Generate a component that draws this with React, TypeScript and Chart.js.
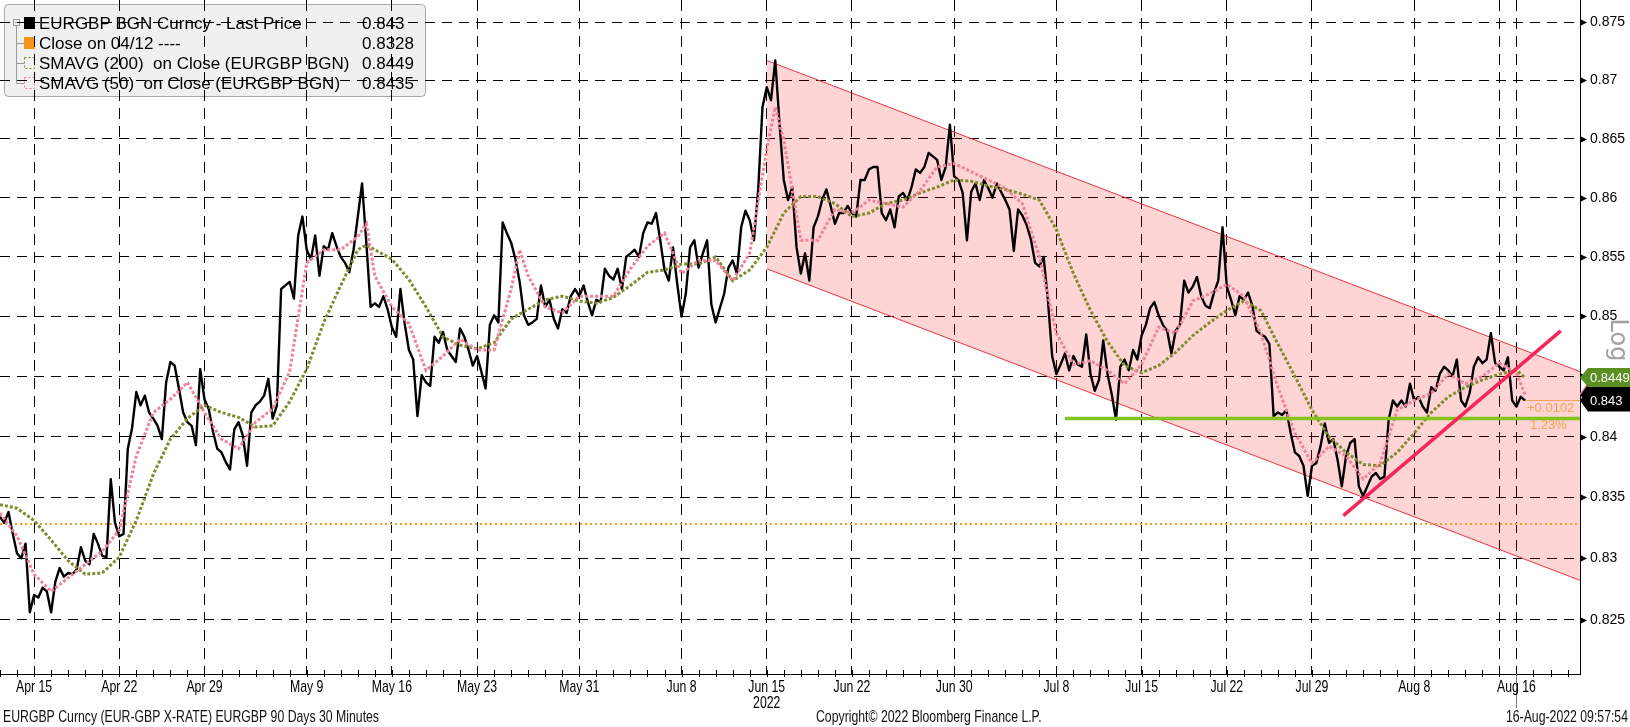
import React, { useEffect, useRef } from "react";
import { Chart, registerables } from "chart.js";
Chart.register(...registerables);

// ---------------- data (x = trading-day index, 0 = Apr 13) ----------------
const priceStartDay = 0;
const priceStepDays = 0.25;
const priceValues = [
  0.8334, 0.8329, 0.8338, 0.832, 0.8304, 0.83, 0.8312, 0.8256,
  0.827, 0.8268, 0.8276, 0.8273, 0.8256, 0.8281, 0.8292, 0.8285,
  0.8288, 0.8287, 0.8291, 0.8309, 0.8298, 0.8295, 0.832, 0.8312,
  0.8302, 0.8301, 0.8365, 0.8329, 0.8318, 0.832, 0.839, 0.8407,
  0.8437, 0.8426, 0.8434, 0.842, 0.8415, 0.8409, 0.8398, 0.8445,
  0.8462, 0.8459, 0.844, 0.842, 0.8412, 0.8409, 0.8393, 0.8456,
  0.8431, 0.8423, 0.8404, 0.839, 0.8387, 0.8379, 0.8373, 0.8406,
  0.8412, 0.8401, 0.8376, 0.842, 0.8426, 0.8429, 0.8434, 0.8448,
  0.8415, 0.8426, 0.8523, 0.8526, 0.8529, 0.8515, 0.8568, 0.8584,
  0.8556, 0.8548, 0.8568, 0.8534, 0.8559, 0.8556, 0.857, 0.8559,
  0.855, 0.8545, 0.8537, 0.8556, 0.8584, 0.8612, 0.8562, 0.8508,
  0.8511, 0.8508, 0.8517, 0.8506, 0.8491, 0.8483, 0.8523, 0.8494,
  0.8472, 0.8464, 0.8417, 0.8451, 0.8445, 0.8442, 0.8483, 0.8478,
  0.8487, 0.8472, 0.8467, 0.8462, 0.849, 0.8483, 0.8472, 0.8459,
  0.8467, 0.8454, 0.844, 0.8493, 0.8501, 0.8495, 0.8579, 0.857,
  0.8562, 0.8548, 0.8529, 0.8501, 0.8493, 0.8495, 0.8498, 0.8526,
  0.8508, 0.8514, 0.8498, 0.849, 0.8506, 0.8503, 0.8517, 0.8523,
  0.8517, 0.8526, 0.8512, 0.8501, 0.8514, 0.8512, 0.854, 0.8534,
  0.8531, 0.854, 0.8523, 0.855, 0.8553, 0.8556, 0.855, 0.857,
  0.8579, 0.8578, 0.8587, 0.8564, 0.8539, 0.853, 0.8558, 0.8527,
  0.85, 0.8519, 0.8558, 0.8564, 0.8541, 0.8553, 0.8564, 0.851,
  0.8495, 0.8507, 0.8519, 0.8541, 0.8547, 0.8536, 0.8575, 0.8589,
  0.8581, 0.8564, 0.8607, 0.8677, 0.8694, 0.8683, 0.8717, 0.8663,
  0.8615, 0.8598, 0.8609, 0.8558, 0.8536, 0.8553, 0.853, 0.8575,
  0.8584, 0.8598, 0.8607, 0.8593, 0.8578, 0.8587, 0.8587, 0.8593,
  0.8587, 0.8584, 0.8615, 0.8615, 0.8624, 0.8626, 0.8626, 0.8587,
  0.8581, 0.859, 0.8575, 0.8601, 0.8604, 0.8598, 0.8609, 0.8624,
  0.8621, 0.8626, 0.8638, 0.8635, 0.8632, 0.8615, 0.8626, 0.8662,
  0.8618, 0.8615, 0.8604, 0.8564, 0.8605, 0.8612, 0.8598, 0.8615,
  0.8608, 0.86, 0.8612, 0.8605, 0.8598, 0.859, 0.8555, 0.859,
  0.8585, 0.8577, 0.8565, 0.8545, 0.8542, 0.855, 0.8514, 0.8467,
  0.8452, 0.846, 0.8469, 0.8455, 0.8467, 0.846, 0.8458, 0.8485,
  0.8452, 0.8438, 0.8447, 0.848, 0.8452, 0.8435, 0.8414, 0.8458,
  0.8464, 0.8455, 0.8472, 0.8464, 0.8484, 0.8493, 0.8507, 0.8512,
  0.8501, 0.8493, 0.8488, 0.8469, 0.8488, 0.8493, 0.853, 0.852,
  0.8525, 0.8533, 0.8517, 0.8509, 0.8507, 0.852, 0.853, 0.8575,
  0.8525, 0.8514, 0.8501, 0.8517, 0.8514, 0.852, 0.8509, 0.8488,
  0.8485, 0.8483, 0.8477, 0.8417, 0.842, 0.8418, 0.8422, 0.8403,
  0.8387, 0.8384, 0.8376, 0.8351, 0.8376, 0.8378, 0.8392, 0.8411,
  0.8395, 0.8398, 0.8381, 0.8359, 0.8384, 0.8395, 0.8398, 0.8359,
  0.8351, 0.8359, 0.8367, 0.837, 0.8365, 0.8367, 0.8414, 0.843,
  0.8425, 0.843, 0.8425, 0.8444, 0.843, 0.8433, 0.8425, 0.842,
  0.8441, 0.8438, 0.8452, 0.8458, 0.8455, 0.845, 0.8464, 0.843,
  0.8425, 0.8436, 0.8458, 0.8466, 0.8461, 0.8464, 0.8486, 0.8461,
  0.8458, 0.8455, 0.8466, 0.843, 0.8425, 0.8433, 0.843,
];

const sma50Days = [
  0, 1, 2, 3, 4, 5, 6, 7, 8, 9, 10, 11, 12, 13, 14, 15, 16, 17, 18, 19, 20, 21, 21.5, 22,
  23, 24, 25, 26, 27, 28, 29, 30, 30.5, 31, 32, 33, 34, 35, 36, 37, 38, 39, 40, 41, 42, 43,
  44, 45, 45.5, 46, 47, 48, 49, 50, 51, 52, 53, 54, 55, 56, 57, 58, 59, 60, 61, 62, 63, 64,
  65, 66, 67, 68, 69, 70, 71, 72, 73, 74, 75, 76, 77, 78, 79, 80, 81, 82, 83, 84, 85, 86,
  87, 88, 89, 89.5,
];
const sma50Values = [
  0.8337, 0.8318, 0.8287, 0.8273, 0.8284, 0.8295, 0.8306, 0.8323, 0.8384, 0.842, 0.8431,
  0.8445, 0.842, 0.8398, 0.839, 0.8412, 0.8423, 0.8454, 0.8545, 0.8556, 0.8556, 0.8567,
  0.8578, 0.8534, 0.8508, 0.8494, 0.8455, 0.8467, 0.8481, 0.8472, 0.8472, 0.8523, 0.8556,
  0.8534, 0.8508, 0.8503, 0.8517, 0.8517, 0.8517, 0.854, 0.8559, 0.857, 0.8536, 0.8547,
  0.8547, 0.853, 0.8553, 0.8641, 0.8677, 0.8649, 0.8564, 0.8564, 0.859, 0.8587, 0.8598,
  0.8595, 0.8592, 0.8606, 0.8626, 0.8629, 0.8622, 0.8615, 0.8608, 0.8595, 0.855, 0.8486,
  0.846, 0.8463, 0.8455, 0.8444, 0.846, 0.8491, 0.8486, 0.8513, 0.8519, 0.8527, 0.8517,
  0.8486, 0.8441, 0.8403, 0.8378, 0.8392, 0.8384, 0.8365, 0.8378, 0.8422, 0.843, 0.8436,
  0.8452, 0.8444, 0.845, 0.8461, 0.8453, 0.8435,
];

const sma200Days = [
  0, 1, 2, 3, 4, 5, 6, 7, 8, 9, 10, 11, 12, 13, 14, 15, 16, 17, 18, 19, 20, 21, 21.5, 22,
  23, 24, 25, 26, 27, 28, 29, 30, 31, 32, 33, 34, 35, 36, 37, 38, 39, 40, 41, 42, 43, 44,
  45, 46, 47, 48, 49, 50, 51, 52, 53, 54, 55, 56, 57, 58, 59, 60, 61, 62, 63, 64, 65, 66,
  67, 68, 69, 70, 71, 72, 73, 74, 75, 76, 77, 78, 79, 80, 81, 82, 83, 84, 85, 86, 87, 88,
  89, 89.5,
];
const sma200Values = [
  0.8344, 0.8341, 0.8331, 0.8315, 0.8298, 0.8287, 0.8288, 0.8301, 0.8331, 0.8369, 0.8398,
  0.8415, 0.8426, 0.842, 0.8416, 0.8408, 0.8409, 0.8429, 0.8456, 0.8495, 0.8526, 0.8556,
  0.856, 0.8556, 0.8548, 0.8531, 0.8508, 0.8483, 0.8476, 0.8473, 0.8478, 0.8498, 0.8506,
  0.8514, 0.8517, 0.8513, 0.8511, 0.8516, 0.8526, 0.8537, 0.8539, 0.8544, 0.8544, 0.855,
  0.853, 0.8539, 0.8558, 0.8587, 0.8601, 0.8601, 0.8595, 0.8584, 0.8587, 0.8595, 0.8598,
  0.8604, 0.8609, 0.8615, 0.8614, 0.861, 0.8607, 0.8603, 0.8598, 0.8573, 0.8536, 0.8505,
  0.8479, 0.8459, 0.8453, 0.8459, 0.847, 0.8484, 0.8495, 0.8505, 0.8513, 0.8505, 0.8477,
  0.845, 0.8422, 0.84, 0.8387, 0.8377, 0.8376, 0.8387, 0.8403, 0.842, 0.8433, 0.8441,
  0.8447, 0.8452, 0.8455, 0.8449,
];

const closeOn0412 = 0.8328;
const lastPrice = 0.843;
const lastSma200 = 0.8449;
const lastSma50 = 0.8435;
const changeText = "+0.0102";
const changePctText = "1.23%";

const channelDays = [45.0, 92.73];
const channelUpperValues = [0.8717, 0.8454];
const channelLowerValues = [0.854, 0.8282];
const supportDays = [62.5, 92.73];
const supportLevel = 0.8415;
const trendDays = [78.84, 91.6];
const trendValues = [0.8335, 0.8488];

const xTickDays = [2, 7, 12, 18, 23, 28, 34, 40, 45, 50, 56, 62, 67, 72, 77, 83, 88, 89];
const xTickLabels = [
  "Apr 15", "Apr 22", "Apr 29", "May 9", "May 16", "May 23", "May 31", "Jun 8", "Jun 15",
  "Jun 22", "Jun 30", "Jul 8", "Jul 15", "Jul 22", "Jul 29", "Aug 8", "", "Aug 16",
];
const yearLabel = "2022";
const yearTickDay = 45;
const nowDay = 89;
const yTickValues = [0.825, 0.83, 0.835, 0.84, 0.845, 0.85, 0.855, 0.86, 0.865, 0.87, 0.875];
const yTickLabels = ["0.825", "0.83", "0.835", "0.84", "0.845", "0.85", "0.855", "0.86", "0.865", "0.87", "0.875"];

const legendLabels = [
  "EURGBP BGN Curncy - Last Price",
  "Close on 04/12 ----",
  "SMAVG (200)  on Close (EURGBP BGN)",
  "SMAVG (50)  on Close (EURGBP BGN)",
];
const legendValues = ["0.843", "0.8328", "0.8449", "0.8435"];
const footerLeft = "EURGBP Curncy (EUR-GBP X-RATE) EURGBP 90 Days 30 Minutes";
const footerMid = "Copyright\u00A9 2022 Bloomberg Finance L.P.";
const footerRight = "16-Aug-2022 09:57:54";

const X_MIN = 0;
const X_MAX = 92.73;
const Y_MIN = 0.8206;
const Y_MAX = 0.8769;

// ---------------- styles ----------------
const W = 1630;
const H = 727;
const FONT = '"Liberation Sans", Arial, sans-serif';
const FOOTER_WIDTH = 376; // rendered width of the left footer line (condensed face)
const C_PRICE = "#000000";
const C_SMA200 = "#7f8c2d";
const C_SMA50 = "#f0839a";
const C_CLOSE = "#f0a020";
const C_SUPPORT = "#80c41c";
const C_TREND = "#f5275a";
const C_CHANNEL = "#e8333c";
const C_ORANGE_TXT = "#f2a255";

function drawTag(ctx: CanvasRenderingContext2D, x0: number, y: number, half: number, fill: string, text: string, stroke?: string) {
  ctx.beginPath();
  ctx.moveTo(x0, y);
  ctx.lineTo(x0 + 8, y - half);
  ctx.lineTo(W, y - half);
  ctx.lineTo(W, y + half);
  ctx.lineTo(x0 + 8, y + half);
  ctx.closePath();
  ctx.fillStyle = fill;
  ctx.fill();
  if (stroke) {
    ctx.strokeStyle = stroke;
    ctx.lineWidth = 1.5;
    ctx.beginPath();
    ctx.moveTo(x0, y);
    ctx.lineTo(x0 + 8, y - half);
    ctx.lineTo(W, y - half);
    ctx.stroke();
  }
  if (text) {
    ctx.fillStyle = "#ffffff";
    ctx.font = `13px ${FONT}`;
    ctx.textAlign = "left";
    ctx.textBaseline = "middle";
    ctx.fillText(text, x0 + 10, y + 1);
  }
}

const bbgPlugin = {
  id: "bbg",
  beforeDraw(chart: any) {
    const ctx: CanvasRenderingContext2D = chart.ctx;
    ctx.save();
    // legend box (grid is drawn over it afterwards, as in the reference)
    ctx.fillStyle = "#f0f0f0";
    ctx.strokeStyle = "#a8a8a8";
    ctx.lineWidth = 1;
    ctx.beginPath();
    (ctx as any).roundRect(4.5, 4.5, 421, 92, 4);
    ctx.fill();
    ctx.stroke();
    const rowY = [23, 43, 63, 83];
    ctx.strokeStyle = "#9a9a9a";
    ctx.beginPath();
    ctx.moveTo(16.5, 26);
    ctx.lineTo(16.5, 83.5);
    for (let i = 1; i < 4; i++) {
      ctx.moveTo(16.5, rowY[i] + 0.5);
      ctx.lineTo(24, rowY[i] + 0.5);
    }
    ctx.stroke();
    ctx.fillStyle = "#f0f0f0";
    ctx.fillRect(13.5, 19.5, 6, 6);
    ctx.strokeRect(13.5, 19.5, 6, 6);
    ctx.beginPath();
    ctx.moveTo(15, 22.5);
    ctx.lineTo(18, 22.5);
    ctx.stroke();
    ctx.fillStyle = "#000";
    ctx.fillRect(24, rowY[0] - 6, 11, 12);
    ctx.fillStyle = "#f7941d";
    ctx.fillRect(24, rowY[1] - 6, 11, 12);
    ctx.setLineDash([2, 2]);
    ctx.lineWidth = 1;
    ctx.strokeStyle = C_SMA200;
    ctx.strokeRect(24.5, rowY[2] - 5.5, 10, 11);
    ctx.strokeStyle = C_SMA50;
    ctx.strokeRect(24.5, rowY[3] - 5.5, 10, 11);
    ctx.setLineDash([]);
    ctx.fillStyle = "#000";
    ctx.font = `17px ${FONT}`;
    ctx.textBaseline = "middle";
    ctx.textAlign = "left";
    for (let i = 0; i < 4; i++) {
      ctx.fillText(legendLabels[i], 39, rowY[i] + 1);
      ctx.fillText(legendValues[i], 362, rowY[i] + 1);
    }
    ctx.restore();
  },
  afterDraw(chart: any) {
    const ctx: CanvasRenderingContext2D = chart.ctx;
    const area = chart.chartArea;
    const xs = chart.scales.x;
    const ys = chart.scales.y;
    ctx.save();
    // y-axis pointer ticks
    ctx.fillStyle = "#000";
    for (const v of yTickValues) {
      const y = Math.round(ys.getPixelForValue(v)) + 0.5;
      ctx.beginPath();
      ctx.moveTo(area.right, y - 3.5);
      ctx.lineTo(area.right + 7, y);
      ctx.lineTo(area.right, y + 3.5);
      ctx.closePath();
      ctx.fill();
    }
    // minor daily ticks on the time axis
    ctx.strokeStyle = "#000";
    ctx.lineWidth = 1;
    ctx.beginPath();
    for (let d = Math.ceil(X_MIN); d <= X_MAX; d++) {
      const x = Math.round(xs.getPixelForValue(d)) + 0.5;
      ctx.moveTo(x, area.bottom - 4);
      ctx.lineTo(x, area.bottom + 3);
    }
    ctx.stroke();
    // "now" marker below the axis
    const nx = Math.round(xs.getPixelForValue(nowDay)) + 0.5;
    ctx.strokeStyle = "#777";
    ctx.beginPath();
    ctx.moveTo(nx, area.bottom);
    ctx.lineTo(nx, 708);
    ctx.stroke();
    // right-side value tags
    drawTag(ctx, area.right, ys.getPixelForValue(lastSma50), 11, "#000", "", C_SMA50);
    drawTag(ctx, area.right, ys.getPixelForValue(lastSma200), 9.5, "#5b8f22", String(lastSma200));
    drawTag(ctx, area.right, ys.getPixelForValue(lastPrice), 11, "#000", String(lastPrice));
    // change annotation
    const yl = ys.getPixelForValue(lastPrice);
    ctx.fillStyle = C_ORANGE_TXT;
    ctx.font = `13px ${FONT}`;
    ctx.textAlign = "left";
    ctx.textBaseline = "middle";
    ctx.fillText(changeText, 1527, yl + 8);
    ctx.fillText(changePctText, 1530, yl + 25);
    // "Log" label
    ctx.save();
    ctx.translate(1617, 340);
    ctx.rotate(Math.PI / 2);
    ctx.fillStyle = "#a0a0a0";
    ctx.font = `24px "DejaVu Sans", sans-serif`;
    ctx.textAlign = "center";
    ctx.textBaseline = "middle";
    ctx.fillText("Log", 0, 0);
    ctx.restore();
    // condensed texts: time-axis labels and footer
    ctx.font = `17px ${FONT}`;
    const sx = FOOTER_WIDTH / ctx.measureText(footerLeft).width;
    const narrow = (text: string, x: number, y: number, align: CanvasTextAlign, color: string) => {
      ctx.save();
      ctx.translate(x, y);
      ctx.scale(sx, 1);
      ctx.fillStyle = color;
      ctx.textAlign = align;
      ctx.textBaseline = "middle";
      ctx.fillText(text, 0, 0);
      ctx.restore();
    };
    for (let i = 0; i < xTickDays.length; i++) {
      const x = xs.getPixelForValue(xTickDays[i]);
      if (xTickLabels[i]) narrow(xTickLabels[i], x, area.bottom + 13, "center", "#000");
      if (xTickDays[i] === yearTickDay) narrow(yearLabel, x, area.bottom + 29, "center", "#000");
    }
    narrow(footerLeft, 3, 717, "left", "#111");
    narrow(footerMid, 816, 717, "left", "#111");
    narrow(footerRight, 1628, 717, "right", "#111");
    ctx.restore();
  },
};

export default function App() {
  const ref = useRef<HTMLCanvasElement | null>(null);
  useEffect(() => {
    if (!ref.current) return;
    const pricePts = priceValues.map((v, i) => ({ x: priceStartDay + i * priceStepDays, y: v }));
    const sma50Pts = sma50Days.map((d, i) => ({ x: d, y: sma50Values[i] }));
    const sma200Pts = sma200Days.map((d, i) => ({ x: d, y: sma200Values[i] }));
    const lastDay = priceStartDay + (priceValues.length - 1) * priceStepDays;
    const base = { pointRadius: 0, pointHoverRadius: 0, tension: 0, fill: false };
    const chart = new Chart(ref.current, {
      type: "line",
      data: {
        datasets: [
          { ...base, label: "trend", data: trendDays.map((d, i) => ({ x: d, y: trendValues[i] })), borderColor: C_TREND, borderWidth: 3.5, order: 1 },
          { ...base, label: "support", data: supportDays.map((d) => ({ x: d, y: supportLevel })), borderColor: C_SUPPORT, borderWidth: 3.5, order: 2 },
          { ...base, label: "sma50", data: sma50Pts, borderColor: C_SMA50, borderWidth: 3, borderDash: [3, 2], order: 3 },
          { ...base, label: "sma200", data: sma200Pts, borderColor: C_SMA200, borderWidth: 3, borderDash: [3, 2], order: 4 },
          { ...base, label: "price", data: pricePts, borderColor: C_PRICE, borderWidth: 2.4, borderJoinStyle: "round", order: 5 },
          { ...base, label: "leader", data: [{ x: lastDay, y: lastPrice }, { x: X_MAX, y: lastPrice }], borderColor: C_ORANGE_TXT, borderWidth: 1, order: 6 },
          { ...base, label: "close", data: [{ x: X_MIN, y: closeOn0412 }, { x: X_MAX, y: closeOn0412 }], borderColor: C_CLOSE, borderWidth: 2, borderDash: [2, 3], order: 7 },
          { ...base, label: "chanUpper", data: channelDays.map((d, i) => ({ x: d, y: channelUpperValues[i] })), borderColor: C_CHANNEL, borderWidth: 1, fill: { target: 8 }, backgroundColor: "rgba(255,0,0,0.17)", order: 9 },
          { ...base, label: "chanLower", data: channelDays.map((d, i) => ({ x: d, y: channelLowerValues[i] })), borderColor: C_CHANNEL, borderWidth: 1, order: 8 },
        ],
      } as any,
      options: {
        responsive: false,
        animation: false,
        events: [],
        layout: { padding: 0 },
        plugins: { legend: { display: false }, tooltip: { enabled: false } },
        scales: {
          x: {
            type: "linear",
            min: X_MIN,
            max: X_MAX,
            bounds: "data",
            position: "bottom",
            afterBuildTicks: (s: any) => {
              s.ticks = xTickDays.map((v) => ({ value: v }));
            },
            afterFit: (s: any) => {
              s.height = H - 674;
              s.paddingLeft = 0;
              s.paddingRight = 0;
            },
            ticks: { display: false, autoSkip: false, maxRotation: 0, minRotation: 0 },
            grid: { color: "#000", lineWidth: 1, drawTicks: false },
            border: { display: true, color: "#000", width: 1, dash: [11, 7] },
          },
          y: {
            type: "logarithmic",
            position: "right",
            min: Y_MIN,
            max: Y_MAX,
            bounds: "data",
            afterBuildTicks: (s: any) => {
              s.ticks = yTickValues.map((v) => ({ value: v }));
            },
            afterFit: (s: any) => {
              s.width = 50;
              s.paddingTop = 0;
              s.paddingBottom = 0;
            },
            ticks: {
              padding: 10,
              color: "#000",
              font: { family: FONT, size: 14 },
              callback: (_v: any, i: number) => yTickLabels[i],
            },
            grid: { color: "#000", lineWidth: 1, drawTicks: false },
            border: { display: true, color: "#000", width: 1, dash: [10, 7] },
          },
        },
      } as any,
      plugins: [bbgPlugin],
    });
    return () => chart.destroy();
  }, []);
  return (
    <div style={{ position: "absolute", left: 0, top: 0, width: W, height: H, background: "#fff" }}>
      <canvas ref={ref} width={W} height={H} style={{ width: W, height: H, display: "block" }} />
    </div>
  );
}
